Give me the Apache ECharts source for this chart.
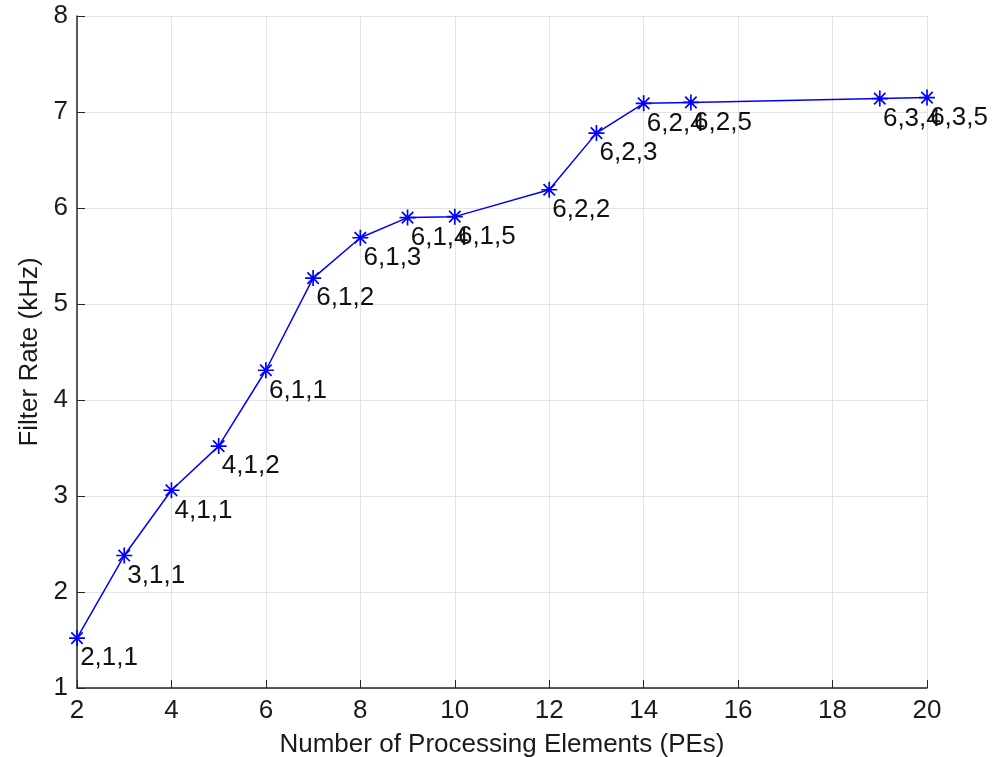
<!DOCTYPE html>
<html>
<head>
<meta charset="utf-8">
<script src="https://cdn.jsdelivr.net/npm/echarts@6/dist/echarts.min.js"></script>
<style>
	html, body {
		margin: 0;
		padding: 0;
		background: #fff;
	}
	#chart {
		width: 1003px;
		height: 757px;
	}
</style>
</head>
<body>
<div id="chart"></div>
<script>
const processingElements = [2, 3, 4, 5, 6, 7, 8, 9, 10, 12, 13, 14, 15, 19, 20];
const filterRates = [1.52, 2.38, 3.06, 3.52, 4.31, 5.27, 5.69, 5.90, 5.91, 6.19, 6.78, 7.09, 7.10, 7.14, 7.15];
const configLabels = [
	"2,1,1", "3,1,1", "4,1,1", "4,1,2", "6,1,1", "6,1,2", "6,1,3", "6,1,4",
	"6,1,5", "6,2,2", "6,2,3", "6,2,4", "6,2,5", "6,3,4", "6,3,5"
];

// matlab style "*" marker
const asterisk = "path://M0,-7L0,7M-7,0L7,0M-5,-5L5,5M-5,5L5,-5";

const font = "Liberation Sans, Arial, sans-serif";

const chart = echarts.init(document.getElementById("chart"));

chart.setOption({
	backgroundColor: "#fff",
	animation: false,
	grid: {
		left: 77,
		right: 76,
		top: 16,
		bottom: 69,
		outerBoundsMode: "none",
		containLabel: false
	},
	xAxis: {
		type: "value",
		min: 2,
		max: 20,
		interval: 2,
		name: "Number of Processing Elements (PEs)",
		nameLocation: "middle",
		nameGap: 44,
		nameTextStyle: {
			fontFamily: font,
			fontSize: 26,
			color: "#1a1a1a"
		},
		axisLine: {
			lineStyle: { color: "#262626", width: 1.5 }
		},
		axisTick: {
			inside: true,
			length: 8,
			lineStyle: { color: "#262626" }
		},
		axisLabel: {
			fontFamily: font,
			fontSize: 26,
			color: "#1a1a1a",
			margin: 10
		},
		splitLine: {
			lineStyle: { color: "#e3e3e3" }
		}
	},
	yAxis: {
		type: "value",
		min: 1,
		max: 8,
		interval: 1,
		name: "Filter Rate (kHz)",
		nameLocation: "middle",
		nameGap: 29,
		nameTextStyle: {
			fontFamily: font,
			fontSize: 26,
			color: "#1a1a1a"
		},
		axisLine: {
			show: true,
			lineStyle: { color: "#262626", width: 1.5 }
		},
		axisTick: {
			show: true,
			inside: true,
			length: 8,
			lineStyle: { color: "#262626" }
		},
		axisLabel: {
			fontFamily: font,
			fontSize: 26,
			color: "#1a1a1a",
			margin: 9
		},
		splitLine: {
			lineStyle: { color: "#e3e3e3" }
		}
	},
	series: [
		{
			type: "line",
			data: processingElements.map((pe, i) => [pe, filterRates[i]]),
			symbol: asterisk,
			symbolSize: 16,
			showAllSymbol: true,
			lineStyle: {
				color: "#0000ff",
				width: 1.5
			},
			itemStyle: {
				color: "#0000ff",
				borderColor: "#0000ff",
				borderWidth: 1.7
			},
			label: {
				show: true,
				position: [12, 16],
				align: "left",
				verticalAlign: "top",
				fontFamily: font,
				fontSize: 26,
				color: "#111",
				formatter: params => configLabels[params.dataIndex]
			}
		}
	]
});
</script>
</body>
</html>
